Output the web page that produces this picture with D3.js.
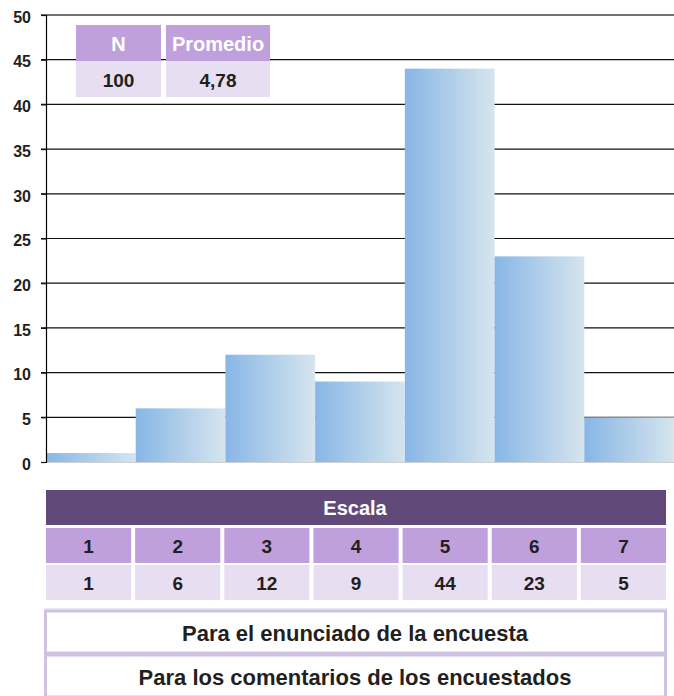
<!DOCTYPE html>
<html>
<head>
<meta charset="utf-8">
<script src="https://cdn.jsdelivr.net/npm/d3@7.9.0/dist/d3.min.js"></script>
<style>
  body { margin: 0; background: #fff; }
  svg { display: block; font-family: "Liberation Sans", Arial, sans-serif; }
</style>
</head>
<body>
<div id="chart"></div>
<script>
const escala = ["1", "2", "3", "4", "5", "6", "7"];
const frecuencias = [1, 6, 12, 9, 44, 23, 5];
const yTicks = [0, 5, 10, 15, 20, 25, 30, 35, 40, 45, 50];
const resumenHeaders = ["N", "Promedio"];
const resumenValues = ["100", "4,78"];
const tituloEscala = "Escala";
const notas = ["Para el enunciado de la encuesta", "Para los comentarios de los encuestados"];

const width = 674;
const height = 696;

const svg = d3.select("#chart")
  .append("svg")
  .attr("width", width)
  .attr("height", height);

const defs = svg.append("defs");
const grad = defs.append("linearGradient")
  .attr("id", "barGrad")
  .attr("x1", "0%").attr("x2", "100%")
  .attr("y1", "0%").attr("y2", "0%");
grad.append("stop").attr("offset", "0%").attr("stop-color", "#88b6e6");
grad.append("stop").attr("offset", "100%").attr("stop-color", "#d6e5ee");

const xScale = d3.scaleBand()
  .domain(escala)
  .range([46, 674])
  .padding(0);

const yScale = d3.scaleLinear()
  .domain([0, 50])
  .range([462, 15]);

// gridlines
svg.append("g")
  .attr("class", "gridlines")
  .selectAll("line")
  .data(yTicks.filter(d => d > 0))
  .join("line")
  .attr("x1", 41)
  .attr("x2", width)
  .attr("y1", d => yScale(d))
  .attr("y2", d => yScale(d))
  .attr("stroke", d => d === 50 ? "#444" : "#111")
  .attr("stroke-width", d => d === 50 ? 1.6 : 1.2);

// bars
svg.append("g")
  .attr("class", "bars")
  .selectAll("rect")
  .data(frecuencias)
  .join("rect")
  .attr("x", (d, i) => xScale(escala[i]))
  .attr("y", d => yScale(d))
  .attr("width", xScale.bandwidth())
  .attr("height", d => yScale(0) - yScale(d))
  .attr("fill", "url(#barGrad)");

// baseline
svg.append("line")
  .attr("x1", 46).attr("x2", width)
  .attr("y1", yScale(0) + 0.5).attr("y2", yScale(0) + 0.5)
  .attr("stroke", "#d0d0d0")
  .attr("stroke-width", 1);

// y axis
const yAxis = d3.axisLeft(yScale).tickValues(yTicks).tickSize(5).tickPadding(10);
const yAxisG = svg.append("g")
  .attr("transform", "translate(46,0)")
  .call(yAxis);
yAxisG.select(".domain").attr("stroke", "#000").attr("stroke-width", 1.2);
yAxisG.selectAll(".tick line").attr("stroke", "#111").attr("stroke-width", 1.2);
yAxisG.selectAll(".tick text")
  .attr("font-family", "'Liberation Sans', Arial, sans-serif")
  .attr("font-size", 16)
  .attr("font-weight", "bold")
  .attr("fill", "#231f20")
  .attr("dy", "0.45em");

// summary table (N / Promedio)
const resX = [76, 166];
const resW = [85, 104];
const resumen = svg.append("g").attr("class", "resumen");
resumenHeaders.forEach((h, i) => {
  resumen.append("rect")
    .attr("x", resX[i]).attr("y", 25)
    .attr("width", resW[i]).attr("height", 36)
    .attr("fill", "#bfa0dc");
  resumen.append("text")
    .attr("x", resX[i] + resW[i] / 2).attr("y", 44)
    .attr("dy", "0.35em")
    .attr("text-anchor", "middle")
    .attr("font-size", 20).attr("font-weight", "bold")
    .attr("fill", "#fff")
    .text(h);
  resumen.append("rect")
    .attr("x", resX[i]).attr("y", 61)
    .attr("width", resW[i]).attr("height", 36)
    .attr("fill", "#e8def2");
  resumen.append("text")
    .attr("x", resX[i] + resW[i] / 2).attr("y", 80)
    .attr("dy", "0.35em")
    .attr("text-anchor", "middle")
    .attr("font-size", 19).attr("font-weight", "bold")
    .attr("fill", "#231f20")
    .text(resumenValues[i]);
});

// scale table
const cellScale = d3.scaleBand()
  .domain(escala)
  .range([46, 666])
  .paddingInner(0.045);

const tabla = svg.append("g").attr("class", "tabla");
tabla.append("rect")
  .attr("x", 46).attr("y", 490)
  .attr("width", 620).attr("height", 35)
  .attr("fill", "#614a7a");
tabla.append("text")
  .attr("x", 355).attr("y", 508)
  .attr("dy", "0.35em")
  .attr("text-anchor", "middle")
  .attr("font-size", 20).attr("font-weight", "bold")
  .attr("fill", "#fff")
  .text(tituloEscala);

const rows = [
  { y: 528, fill: "#bfa0dc", values: escala },
  { y: 565, fill: "#e8def2", values: frecuencias.map(String) }
];
rows.forEach(r => {
  const g = tabla.append("g");
  g.selectAll("rect")
    .data(escala)
    .join("rect")
    .attr("x", d => cellScale(d))
    .attr("y", r.y)
    .attr("width", cellScale.bandwidth())
    .attr("height", 35)
    .attr("fill", r.fill);
  g.selectAll("text")
    .data(escala)
    .join("text")
    .attr("x", d => cellScale(d) + cellScale.bandwidth() / 2)
    .attr("y", r.y + 18)
    .attr("dy", "0.35em")
    .attr("text-anchor", "middle")
    .attr("font-size", 19).attr("font-weight", "bold")
    .attr("fill", "#231f20")
    .text((d, i) => r.values[i]);
});

// thin separator
tabla.append("line")
  .attr("x1", 45).attr("x2", 667)
  .attr("y1", 609).attr("y2", 609)
  .attr("stroke", "#d4d4d8").attr("stroke-width", 1);

// note boxes
const notaY = [611, 655];
notas.forEach((t, i) => {
  svg.append("rect")
    .attr("x", 45.5).attr("y", notaY[i])
    .attr("width", 620).attr("height", 42)
    .attr("fill", "#fff")
    .attr("stroke", "#cfc2e2")
    .attr("stroke-width", 3);
  svg.append("text")
    .attr("x", 355).attr("y", notaY[i] + 22)
    .attr("dy", "0.35em")
    .attr("text-anchor", "middle")
    .attr("font-size", 22).attr("font-weight", "bold")
    .attr("fill", "#231f20")
    .text(t);
});
</script>
</body>
</html>
